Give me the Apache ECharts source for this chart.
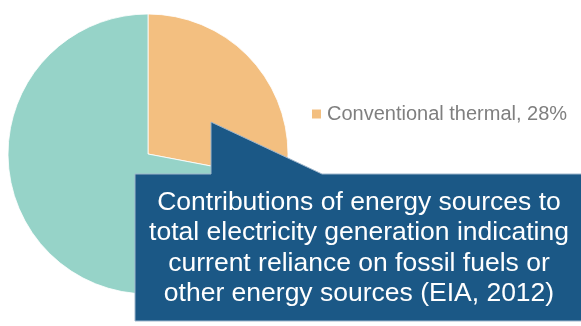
<!DOCTYPE html>
<html>
<head>
<meta charset="utf-8">
<style>
  html, body { margin: 0; padding: 0; background: #ffffff; }
  #chart { width: 581px; height: 326px; }
</style>
<script src="https://cdn.jsdelivr.net/npm/echarts@6/dist/echarts.min.js"></script>
</head>
<body>
<div id="chart"></div>
<script>
// Share of total electricity generation by source
const sourceNames = ['Conventional thermal', 'Other sources'];
const sourceShares = [28, 72];
const sourceColors = ['#f3bf80', '#96d3c8'];
const legendShown = ['Conventional thermal'];

const calloutLines = [
  'Contributions of energy sources to',
  'total electricity generation indicating',
  'current reliance on fossil fuels or',
  'other energy sources (EIA, 2012)'
];

const chart = echarts.init(document.getElementById('chart'), null, { renderer: 'canvas' });

const pieData = sourceNames.map((name, i) => ({
  name: name,
  value: sourceShares[i],
  itemStyle: { color: sourceColors[i] }
}));

chart.setOption({
  animation: false,
  backgroundColor: '#ffffff',
  legend: {
    data: legendShown,
    left: 310,
    top: 104,
    padding: 0,
    icon: 'rect',
    itemWidth: 11,
    itemHeight: 11,
    formatter: function (name) {
      const i = sourceNames.indexOf(name);
      return name + ', ' + sourceShares[i] + '%';
    },
    textStyle: {
      fontFamily: 'Liberation Sans, Arial, sans-serif',
      fontSize: 20,
      color: '#7f7f7f'
    }
  },
  series: [{
    type: 'pie',
    center: [148, 154],
    radius: [0, 140],
    startAngle: 90,
    clockwise: true,
    label: { show: false },
    labelLine: { show: false },
    emphasis: { disabled: true },
    itemStyle: { borderColor: '#ffffff', borderWidth: 0.8 },
    data: pieData
  }],
  graphic: [
    {
      type: 'polygon',
      z: 100,
      shape: {
        points: [[135, 174], [211, 174], [211, 122], [322, 174], [590, 174], [590, 321], [135, 321]]
      },
      style: { fill: '#1b5886', stroke: '#9fb6cc', lineWidth: 1 }
    },
    {
      type: 'text',
      z: 101,
      x: 359,
      y: 248,
      style: {
        text: calloutLines.join('\n'),
        align: 'center',
        verticalAlign: 'middle',
        fill: '#ffffff',
        font: '26.5px "Liberation Sans", Arial, sans-serif',
        lineHeight: 30.5
      }
    }
  ]
});
</script>
</body>
</html>
